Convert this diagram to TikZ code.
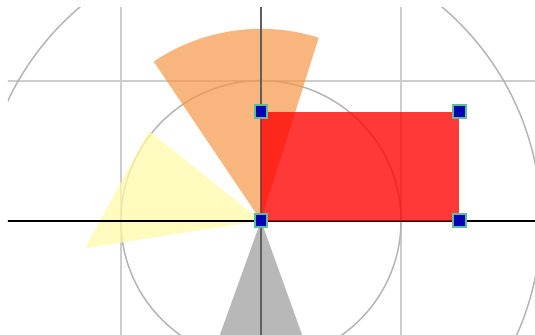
\documentclass[tikz,border=0pt]{standalone}
\usepackage{tikz}

\definecolor{gridgrey}{RGB}{205,205,205}
\definecolor{circgrey}{RGB}{180,180,180}
\definecolor{axisgrey}{RGB}{95,95,95}
\definecolor{wedgeorange}{RGB}{245,150,70}
\definecolor{wedgeyellow}{RGB}{255,250,170}
\definecolor{handleblue}{RGB}{0,0,180}
\definecolor{handleedge}{RGB}{90,190,150}

\tikzset{
  handle/.style={draw=handleedge,line width=0.35pt,fill=handleblue,
    rectangle,inner sep=0pt,minimum size=0.9mm}
}

\begin{document}
\begin{tikzpicture}[x=1cm,y=1cm]
  \useasboundingbox (-1.864,-0.816) rectangle (1.957,1.576);
  \begin{scope}
    \clip (-1.807,-0.816) rectangle (1.957,1.519);
    % the grid and the two circles
    \foreach \x in {-1,1} \draw[gridgrey,line width=0.45pt] (\x,-1) -- (\x,2);
    \draw[gridgrey,line width=0.45pt] (-2,1) -- (2,1);
    \foreach \r in {1,2} \draw[circgrey,line width=0.3pt] (0,0) circle (\r);
    % the three wedges
    \fill[wedgeorange,opacity=0.7] (0,0) -- (72.5:1.37) arc (72.5:124:1.37) -- cycle;
    \fill[wedgeyellow,opacity=0.75] (0,0) -- (-0.8,0.64) -- (-1.257,-0.197) -- cycle;
    \fill[black,opacity=0.28] (0,0) -- (-0.36,-1) -- (0.36,-1) -- cycle;
    % the axes
    \draw[axisgrey,line width=0.6pt] (0,-1) -- (0,2);
    \draw[black,line width=0.4pt] (-2,0) -- (2,0);
  \end{scope}
  % the rectangle
  \fill[red,opacity=0.78] (0,0) rectangle (1.417,0.779);
  % its corner handles
  \node[handle] (h1) at (0,0) {};
  \node[handle] (h2) at (1.417,0) {};
  \node[handle] (h3) at (1.417,0.779) {};
  \node[handle] (h4) at (0,0.779) {};
\end{tikzpicture}
\end{document}
